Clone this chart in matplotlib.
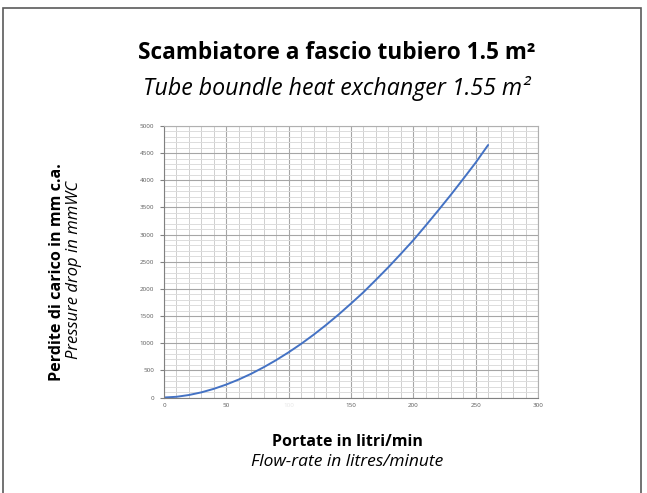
import matplotlib.pyplot as plt
from matplotlib.patches import Rectangle
from matplotlib.ticker import MultipleLocator

# pressure drop curve of the heat exchanger
flow = [0, 10, 20, 30, 40, 50, 60, 70, 80, 90, 100, 110, 120, 130,
        140, 150, 160, 170, 180, 190, 200, 210, 220, 230, 240, 250, 260]
drop = [0, 13, 46, 95, 160, 239, 332, 438, 558, 689, 833, 988, 1156, 1336,
        1527, 1730, 1939, 2167, 2400, 2646, 2897, 3168, 3446, 3730, 4025, 4325, 4650]

x_ticks = [0, 50, 100, 150, 200, 250, 300]
y_ticks = list(range(0, 5001, 500))

title_it = "Scambiatore a fascio tubiero 1.5 m\u00b2"
title_en = "Tube boundle heat exchanger 1.55 m\u00b2"
xlabel_it = "Portate in litri/min"
xlabel_en = "Flow-rate in litres/minute"
ylabel_it = "Perdite di carico in mm c.a."
ylabel_en = "Pressure drop in mmWC"

plt.rcParams['font.family'] = ['Open Sans', 'DejaVu Sans']

fig = plt.figure(figsize=(6.47, 4.93), dpi=100)
ax = fig.add_axes([0.2535, 0.1937, 0.578, 0.5507])

ax.plot(flow, drop, color='#4472c4', lw=1.4, solid_capstyle='round')

ax.set_xlim(0, 300)
ax.set_ylim(0, 5000)
ax.set_xticks(x_ticks)
ax.set_yticks(y_ticks)
ax.xaxis.set_minor_locator(MultipleLocator(10))
ax.yaxis.set_minor_locator(MultipleLocator(100))
ax.grid(which='major', color='#a6a6a6', lw=0.8)
ax.grid(which='minor', axis='x', color='#cfcfcf', lw=0.7)
ax.grid(which='minor', axis='y', color='#dcdcdc', lw=0.7)
ax.set_axisbelow(True)
ax.tick_params(which='both', length=0, labelsize=4.5, labelcolor='#595959', pad=4)
ax.tick_params(which='major', axis='y', length=3, color='#808080', direction='out')
for side in ['left', 'bottom']:
    ax.spines[side].set_color('#808080')
for side in ['top', 'right']:
    ax.spines[side].set_color('#b0b0b0')
for lbl in ax.get_xticklabels():
    if lbl.get_text() == '100':
        lbl.set_color('#e6e6e6')

# titles and axis captions
fig.text(0.52, 0.893, title_it, ha='center', va='center', fontsize=16.3, fontweight='bold')
fig.text(0.52, 0.82, title_en, ha='center', va='center', fontsize=16.7, style='italic')
fig.text(0.537, 0.103, xlabel_it, ha='center', va='center', fontsize=11.5, fontweight='bold')
fig.text(0.537, 0.062, xlabel_en, ha='center', va='center', fontsize=12.5, style='italic')
fig.text(0.088, 0.448, ylabel_it, ha='center', va='center', rotation=90, fontsize=11.6, fontweight='bold')
fig.text(0.114, 0.452, ylabel_en, ha='center', va='center', rotation=90, fontsize=12, style='italic')

# outer frame
fig.patches.append(Rectangle((3 / 647, -0.05), 638 / 647, 1 - 8 / 493 + 0.05,
                             transform=fig.transFigure, fill=False,
                             edgecolor='#5a5a5a', lw=1.2))

fig.savefig('out.png', dpi=100)
